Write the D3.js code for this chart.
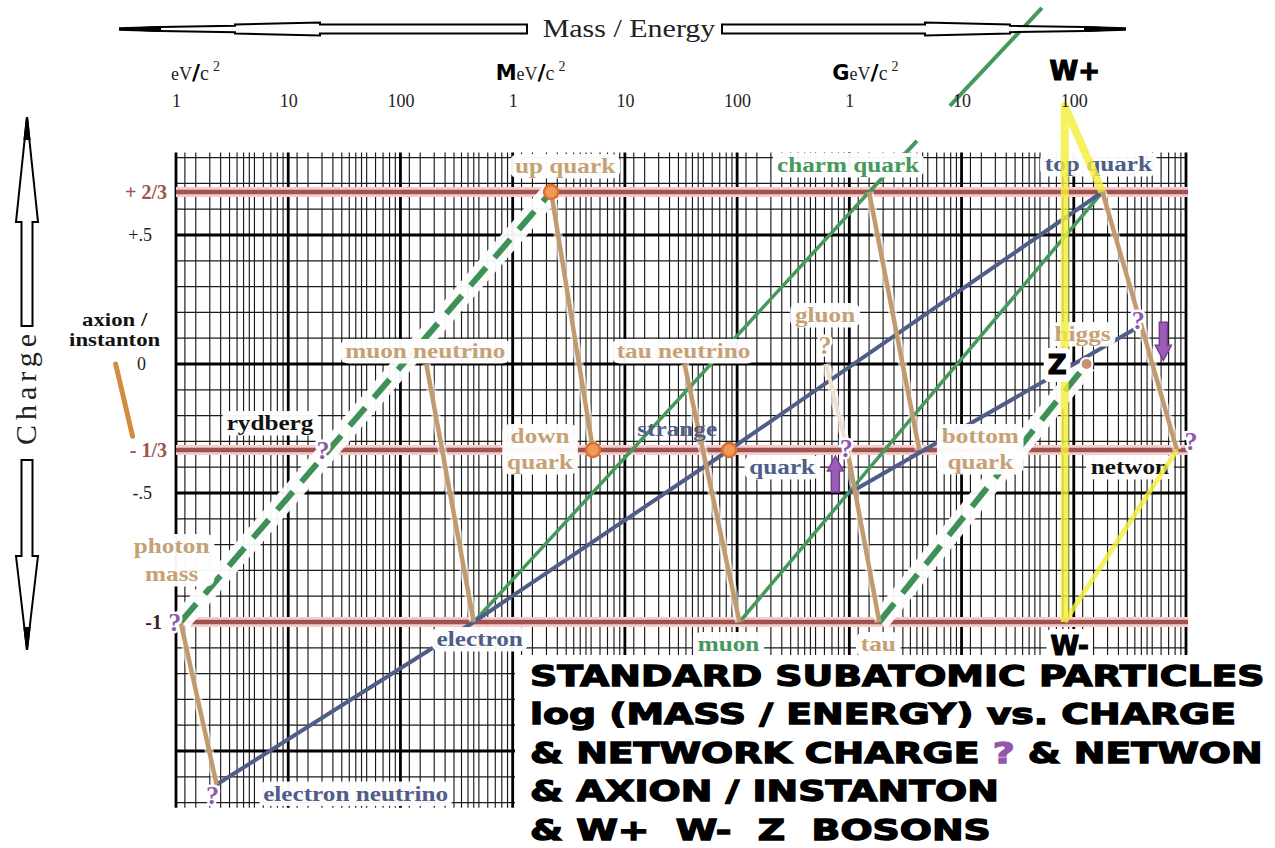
<!DOCTYPE html>
<html>
<head>
<meta charset="utf-8">
<script src="https://cdn.jsdelivr.net/npm/d3@7"></script>
<style>
  body { margin: 0; background: #fff; }
  svg { display: block; }
</style>
</head>
<body>
<svg id="chart" width="1275" height="848"></svg>
<script>
'use strict';
/* global d3 */

// ---- data (mass axis is the chart's own compressed log scale: eV, MeV, GeV decades) ----
var massTicks = [1, 10, 100, 1e3, 1e4, 1e5, 1e6, 1e7, 1e8];
var massTickLabels = ['1', '10', '100', '1', '10', '100', '1', '10', '100'];
var massUnits = [
  {at: 1, prefix: '', unit: 'eV'},
  {at: 1e3, prefix: 'M', unit: 'eV'},
  {at: 1e6, prefix: 'G', unit: 'eV'}
];
var chargeTicks = [2 / 3, 0.5, 0, -1 / 3, -0.5, -1];
var chargeTickLabels = ['+ 2/3', '+.5', '0', '- 1/3', '-.5', '-1'];
var quarkCharges = [2 / 3, -1 / 3, -1];
var quarkLineStart = [1, 1, 1.35];

var particles = [
  {id: 'photon', mass: 1.1, charge: -1},
  {id: 'eNeutrino', mass: 2.3, charge: -1.63},
  {id: 'rydberg', mass: 20, charge: -1 / 3},
  {id: 'muNeutrino', mass: 170, charge: 0},
  {id: 'electron', mass: 450, charge: -1},
  {id: 'up', mass: 2200, charge: 2 / 3},
  {id: 'down', mass: 5200, charge: -1 / 3},
  {id: 'tauNeutrino', mass: 34000, charge: 0},
  {id: 'strange', mass: 85000, charge: -1 / 3},
  {id: 'muon', mass: 105000, charge: -1},
  {id: 'gluon', mass: 620000, charge: 0},
  {id: 'quarkQ', mass: 960000, charge: -1 / 3},
  {id: 'charm', mass: 1.5e6, charge: 2 / 3},
  {id: 'tau', mass: 1.85e6, charge: -1},
  {id: 'bottom', mass: 4.2e6, charge: -1 / 3},
  {id: 'Wplus', mass: 8.3e7, charge: 1},
  {id: 'Wminus', mass: 8.3e7, charge: -1},
  {id: 'Z', mass: 9.1e7, charge: 0},
  {id: 'higgs', mass: 1.3e8, charge: 0},
  {id: 'top', mass: 1.8e8, charge: 2 / 3},
  {id: 'higgsQ', mass: 4e8, charge: 0.15},
  {id: 'netwon', mass: 8.3e8, charge: -1 / 3}
];
var waypoints = [
  {id: 'greenEnd', mass: 5.2e7, charge: 1.38},
  {id: 'blueStart', mass: 1e6, charge: -0.5},
  {id: 'axionTop', mass: 0.29, charge: 0},
  {id: 'axionBottom', mass: 0.41, charge: -0.28}
];

var tanLinks = [['photon', 'eNeutrino'], ['muNeutrino', 'electron'], ['up', 'down'],
  ['tauNeutrino', 'muon'], ['charm', 'bottom'], ['quarkQ', 'tau'], ['top', 'higgsQ', 'netwon']];
var gluonLinks = [['gluon', 'quarkQ']];
var axionLinks = [['axionTop', 'axionBottom']];
var greenLinks = [['electron', 'charm'], ['muon', 'top']];
var greenExtension = [['charm', 'greenEnd']];
var dashedLinks = [['photon', 'up'], ['tau', 'higgs']];
var blueLinks = [['eNeutrino', 'electron', 'strange', 'top'], ['blueStart', 'higgsQ']];
var yellowLinks = [['Wminus', 'Wplus', 'top'], ['netwon', 'Wminus']];
var orangeDots = ['up', 'down', 'strange'];
var higgsDots = ['higgs'];
var purpleMarks = ['photon', 'eNeutrino', 'rydberg', 'quarkQ', 'higgsQ', 'netwon'];
var tanMarks = ['gluon'];

var TAN = '#c6a173', SLATE = '#4f5d88', GREEN = '#46995c', INK = '#111';
var SERIF = '"Liberation Serif", "DejaVu Serif", serif';
var SANS = '"DejaVu Sans", "Liberation Sans", sans-serif';

var labels = [
  {of: 'up', text: ['up quark'], color: TAN, dx: 14, dy: -19},
  {of: 'muNeutrino', text: ['muon neutrino'], color: TAN, dx: -1, dy: -6},
  {of: 'tauNeutrino', text: ['tau neutrino'], color: TAN, dx: -1, dy: -6},
  {of: 'down', text: ['down', 'quark'], color: TAN, dx: -53, dy: -7},
  {of: 'strange', text: ['strange'], color: SLATE, dx: -52, dy: -14, box: false},
  {of: 'strange', text: ['quark'], color: SLATE, dx: 53, dy: 24},
  {of: 'charm', text: ['charm quark'], color: GREEN, dx: -21, dy: -20},
  {of: 'top', text: ['top quark'], color: SLATE, dx: -4, dy: -21},
  {of: 'gluon', text: ['gluon'], color: TAN, dx: -1, dy: -42},
  {of: 'higgs', text: ['higgs'], color: TAN, dx: -4, dy: -23},
  {of: 'bottom', text: ['bottom', 'quark'], color: TAN, dx: 61, dy: -7},
  {of: 'netwon', text: ['netwon'], color: INK, dx: -47, dy: 24},
  {of: 'tau', text: ['tau'], color: TAN, dx: -1, dy: 29},
  {of: 'muon', text: ['muon'], color: GREEN, dx: -11, dy: 29},
  {of: 'electron', text: ['electron'], color: SLATE, dx: 6, dy: 24},
  {of: 'eNeutrino', text: ['electron neutrino'], color: SLATE, dx: 139, dy: 16},
  {of: 'rydberg', text: ['rydberg'], color: INK, dx: -52, dy: -20},
  {of: 'photon', text: ['photon', 'mass'], color: TAN, dx: -9, dy: -69, lh: 28},
  {of: 'axionTop', text: ['axion /', 'instanton'], color: INK, dx: -1, dy: -38, lh: 20, size: 19, box: false}
];
var bosonLabels = [
  {of: 'Wplus', text: 'W+', dx: 10, dy: -26, box: false},
  {of: 'Z', text: 'Z', dx: -12, dy: 10, box: true},
  {of: 'Wminus', text: 'W-', dx: 5, dy: 33, box: true}
];
var titleLines = [
  ['STANDARD SUBATOMIC PARTICLES'],
  ['log (MASS / ENERGY) vs. CHARGE'],
  ['& NETWORK CHARGE ', '?', ' & NETWON'],
  ['& AXION / INSTANTON'],
  ['& W+\u00a0\u00a0W-\u00a0\u00a0Z\u00a0\u00a0BOSONS']
];

// ---- scales ----
var svg = d3.select('#chart');
var x = d3.scaleLog().domain([1, 1e9]).range([176, 1186]);
var y = d3.scaleLinear().domain([0, -1]).range([364, 622]);
var yTop = y(0.82), yBot = y(-1.72);

var pt = {};
particles.concat(waypoints).forEach(function (d) { pt[d.id] = d; });
var px = function (id) { return x(pt[id].mass); };
var py = function (id) { return y(pt[id].charge); };
var line = d3.line().x(function (d) { return x(d.mass); }).y(function (d) { return y(d.charge); });
var pathOf = function (ids) { return line(ids.map(function (i) { return pt[i]; })); };

svg.append('rect').attr('width', 1275).attr('height', 848).attr('fill', '#fff');

// ---- grid paper ----
var grid = svg.append('g');
var minorMult = [1.2, 1.5, 2, 2.5, 3, 3.5, 4, 4.5, 5, 6, 7, 8, 9];
var minorX = d3.range(0, 9).reduce(function (a, k) {
  return a.concat(minorMult.map(function (m) { return m * Math.pow(10, k); }));
}, []);
grid.selectAll('line.vmin').data(minorX).join('line')
  .attr('x1', function (d) { return x(d); }).attr('x2', function (d) { return x(d); })
  .attr('y1', yTop).attr('y2', yBot)
  .attr('stroke', '#1a1a1a').attr('stroke-width', 1.15);
var hIdx = d3.range(-17, 9);
grid.selectAll('line.h').data(hIdx).join('line')
  .attr('x1', x(1)).attr('x2', x(1e9))
  .attr('y1', function (d) { return y(d / 10); }).attr('y2', function (d) { return y(d / 10); })
  .attr('stroke', function (d) { return d % 5 === 0 ? '#000' : '#1a1a1a'; })
  .attr('stroke-width', function (d) { return d % 5 === 0 ? 2.8 : 1.2; });
grid.selectAll('line.vmaj').data(d3.range(0, 10).map(function (k) { return Math.pow(10, k); })).join('line')
  .attr('x1', function (d) { return x(d); }).attr('x2', function (d) { return x(d); })
  .attr('y1', yTop).attr('y2', yBot)
  .attr('stroke', '#000').attr('stroke-width', 2.8);

// blank corner for the title block
svg.append('rect').attr('x', 515).attr('y', 655).attr('width', 760).attr('height', 193).attr('fill', '#fff');

// ---- charge reference lines ----
var ref = svg.append('g');
ref.selectAll('line.glow').data(quarkCharges).join('line')
  .attr('x1', function (d, i) { return x(quarkLineStart[i]); }).attr('x2', x(1e9) + 2)
  .attr('y1', y).attr('y2', y)
  .attr('stroke', '#f6cccc').attr('stroke-width', 10);
ref.selectAll('line.main').data(quarkCharges).join('line')
  .attr('x1', function (d, i) { return x(quarkLineStart[i]); }).attr('x2', x(1e9) + 2)
  .attr('y1', y).attr('y2', y)
  .attr('stroke', '#a0524e').attr('stroke-width', 4.5);

// ---- particle links ----
var links = svg.append('g').attr('fill', 'none');
links.selectAll('path.halo').data(dashedLinks).join('path')
  .attr('d', pathOf).attr('stroke', '#fff').attr('stroke-width', 20).attr('opacity', 0.95);
links.selectAll('path.tanhalo').data(tanLinks.concat(gluonLinks)).join('path')
  .attr('d', pathOf).attr('stroke', '#fff').attr('stroke-width', 9).attr('opacity', 0.6);
links.selectAll('path.green').data(greenLinks).join('path')
  .attr('d', pathOf).attr('stroke', GREEN).attr('stroke-width', 3.5);
links.selectAll('path.greenExt').data(greenExtension).join('path')
  .attr('d', pathOf).attr('stroke', GREEN).attr('stroke-width', 4).attr('stroke-dasharray', '70,48,400');
links.selectAll('path.blue').data(blueLinks).join('path')
  .attr('d', pathOf).attr('stroke', SLATE).attr('stroke-width', 4);
links.selectAll('path.dash').data(dashedLinks).join('path')
  .attr('d', pathOf).attr('stroke', '#3d9156').attr('stroke-width', 6).attr('stroke-dasharray', '24,13');
links.selectAll('path.tan').data(tanLinks).join('path')
  .attr('d', pathOf).attr('stroke', '#c39a70').attr('stroke-width', 4.5);
links.selectAll('path.gluon').data(gluonLinks).join('path')
  .attr('d', pathOf).attr('stroke', '#eee2cf').attr('stroke-width', 4);
links.selectAll('path.axion').data(axionLinks).join('path')
  .attr('d', pathOf).attr('stroke', '#d48a3f').attr('stroke-width', 5).attr('stroke-linecap', 'round');

// ---- particle dots ----
svg.append('g').selectAll('circle').data(orangeDots).join('circle')
  .attr('cx', px).attr('cy', py).attr('r', 7)
  .attr('fill', '#ef9a5a').attr('stroke', '#e06f2d').attr('stroke-width', 2.5);
svg.append('g').selectAll('circle').data(higgsDots).join('circle')
  .attr('cx', px).attr('cy', py).attr('r', 6)
  .attr('fill', '#c88f78').attr('stroke', '#fff').attr('stroke-width', 2);

// ---- particle labels ----
var labelG = svg.append('g');
labels.forEach(function (l) {
  var lh = l.lh || 26, fs = l.size || 21;
  var g = labelG.append('g')
    .attr('transform', 'translate(' + (px(l.of) + l.dx) + ',' + (py(l.of) + l.dy) + ') scale(1.2,1)');
  var t = g.append('text').attr('text-anchor', 'middle')
    .attr('font-family', SERIF).attr('font-weight', 'bold').attr('font-size', fs).attr('fill', l.color);
  l.text.forEach(function (s, i) { t.append('tspan').attr('x', 0).attr('y', i * lh).text(s); });
  if (l.box !== false) {
    var b = t.node().getBBox();
    g.insert('rect', 'text').attr('x', b.x - 4).attr('y', b.y)
      .attr('width', b.width + 8).attr('height', b.height + 1)
      .attr('rx', 7).attr('fill', '#fff').attr('opacity', 0.96);
  }
});

// ---- W / Z bosons (yellow) ----
var yel = svg.append('g').attr('fill', 'none').attr('stroke', '#f3ee3c').attr('opacity', 0.82)
  .attr('stroke-linejoin', 'round');
yel.selectAll('path').data(yellowLinks).join('path')
  .attr('d', pathOf).attr('stroke-width', function (d, i) { return i === 0 ? 8 : 5; });

bosonLabels.forEach(function (l) {
  var g = svg.append('g').attr('transform', 'translate(' + (px(l.of) + l.dx) + ',' + (py(l.of) + l.dy) + ')');
  var t = g.append('text').attr('text-anchor', 'middle').attr('font-family', SANS)
    .attr('font-weight', 'bold').attr('font-size', 26).attr('fill', '#000')
    .attr('stroke', '#000').attr('stroke-width', 1.2).text(l.text);
  if (l.box) {
    var b = t.node().getBBox();
    g.insert('rect', 'text').attr('x', b.x - 4).attr('y', b.y - 2)
      .attr('width', b.width + 8).attr('height', b.height + 4).attr('rx', 5).attr('fill', '#fff');
  }
});

// ---- question marks ----
var qOff = {photon: [-6, 9], eNeutrino: [-4, 19], rydberg: [1, 9], quarkQ: [-1, 7], higgsQ: [-3, 4], netwon: [14, 0], gluon: [-1, -10]};
svg.append('g').selectAll('text').data(purpleMarks.concat(tanMarks)).join('text')
  .attr('x', function (d) { return px(d) + qOff[d][0]; })
  .attr('y', function (d) { return py(d) + qOff[d][1]; })
  .attr('text-anchor', 'middle').attr('font-family', SERIF).attr('font-weight', 'bold')
  .attr('font-size', 26)
  .attr('fill', function (d) { return tanMarks.indexOf(d) >= 0 ? TAN : '#8c5aa8'; })
  .attr('stroke', '#fff').attr('stroke-width', 5).attr('paint-order', 'stroke')
  .text('?');

// purple up / down arrows
var arrowPath = function (cx, y0, y1) {
  var dir = y1 > y0 ? 1 : -1, hl = 15 * dir;
  return d3.line()([[cx - 4, y0], [cx + 4, y0], [cx + 4, y1 - hl], [cx + 8, y1 - hl], [cx, y1],
    [cx - 8, y1 - hl], [cx - 4, y1 - hl]]) + 'Z';
};
var purple = svg.append('g').attr('fill', '#9b5db5').attr('stroke', '#7a3e96').attr('stroke-width', 1.5);
purple.append('path').attr('d', arrowPath(px('quarkQ') - 12, py('quarkQ') + 42, py('quarkQ') + 6));
purple.append('path').attr('d', arrowPath(px('higgsQ') + 22, py('higgsQ') - 3, py('higgsQ') + 35));

// ---- axes ----
var xAxis = svg.append('g').attr('transform', 'translate(0,107)')
  .call(d3.axisTop(x).tickValues(massTicks).tickFormat(function (d, i) { return massTickLabels[i]; })
    .tickSize(0).tickPadding(0));
xAxis.select('.domain').remove();
xAxis.selectAll('text').attr('font-family', SERIF).attr('font-size', 18).attr('fill', '#222');

var units = svg.append('g');
massUnits.forEach(function (u) {
  var t = units.append('text').attr('x', x(u.at) - (u.prefix ? 17 : 5)).attr('y', 80).attr('fill', '#222');
  if (u.prefix) t.append('tspan').attr('font-family', SANS).attr('font-weight', 'bold').attr('font-size', 21).attr('fill', '#000').text(u.prefix);
  t.append('tspan').attr('font-family', SERIF).attr('font-size', 18).text(u.unit);
  t.append('tspan').attr('font-family', SANS).attr('font-weight', 'bold').attr('font-size', 22).attr('fill', '#000').text('/');
  t.append('tspan').attr('font-family', SERIF).attr('font-size', 20).text('c');
  t.append('tspan').attr('font-family', SERIF).attr('font-size', 14).attr('dx', 4).attr('dy', -9).text('2');
});

var yAxis = svg.append('g').attr('transform', 'translate(' + x(1) + ',0)')
  .call(d3.axisLeft(y).tickValues(chargeTicks).tickFormat(function (d, i) { return chargeTickLabels[i]; })
    .tickSize(0).tickPadding(9));
yAxis.select('.domain').remove();
yAxis.selectAll('text').each(function (d, i) {
  var s = chargeTickLabels[i];
  var frac = s.indexOf('/') >= 0;
  var t = d3.select(this).attr('font-family', SERIF);
  if (frac) t.attr('font-weight', 'bold').attr('font-size', 20).attr('fill', '#a0524e').attr('x', -9);
  else if (s === '-1') t.attr('font-weight', 'bold').attr('font-size', 20).attr('fill', '#3a1f1f').attr('x', -14);
  else if (s === '0') t.attr('font-size', 18).attr('fill', '#222').attr('x', -30);
  else t.attr('font-size', 18).attr('fill', '#222').attr('x', -24);
});

// ---- titles and big outline arrows ----
svg.append('text').attr('transform', 'translate(629,37) scale(1.2,1)')
  .attr('text-anchor', 'middle').attr('font-family', SERIF).attr('font-size', 25).attr('fill', '#222')
  .text('Mass / Energy');
svg.append('text').attr('transform', 'translate(36,387) rotate(-90)')
  .attr('text-anchor', 'middle').attr('font-family', SERIF).attr('font-size', 30)
  .attr('letter-spacing', 5).attr('fill', '#222').text('Charge');

var outline = svg.append('g').attr('fill', '#fff').attr('stroke', '#000').attr('stroke-width', 2)
  .attr('stroke-linejoin', 'miter');
var hArrow = function (tip, end, cy) {
  var s = end > tip ? 1 : -1;
  var prof = [[tip, 0.8], [tip + 40 * s, 2], [tip + 115 * s, 3.2], [tip + 115 * s, 4.6],
    [tip + 200 * s, 6.6], [tip + 200 * s, 4.5], [end, 4.5]];
  var pts = prof.map(function (p) { return [p[0], cy - p[1]]; })
    .concat(prof.slice().reverse().map(function (p) { return [p[0], cy + p[1]]; }));
  outline.append('path').attr('d', d3.line()(pts) + 'Z');
  outline.append('path').attr('fill', '#000').attr('d', d3.line()([[tip, cy], [tip + 40 * s, cy - 2], [tip + 40 * s, cy + 2]]) + 'Z');
};
hArrow(120, 527, 29);
hArrow(1125, 722, 29);
var vArrow = function (tip, base, end, cx) {
  var pts = [[cx, tip], [cx + 11, base], [cx + 5.5, base], [cx + 5.5, end], [cx - 5.5, end], [cx - 5.5, base], [cx - 11, base]];
  outline.append('path').attr('d', d3.line()(pts) + 'Z');
  var s = base > tip ? 1 : -1;
  outline.append('path').attr('fill', '#000').attr('d', d3.line()([[cx, tip], [cx + 2.5, tip + 22 * s], [cx - 2.5, tip + 22 * s]]) + 'Z');
};
vArrow(117, 222, 326, 27);
vArrow(650, 556, 460, 27);

// ---- title block ----
var title = svg.append('g').attr('font-family', SANS).attr('font-weight', 'bold').attr('font-size', 29)
  .attr('fill', '#000').attr('stroke', '#000').attr('stroke-width', 1.3);
var tLines = title.selectAll('text').data(titleLines).join('text')
  .attr('y', function (d, i) { return 686 + i * 38.5; });
tLines.each(function (parts) {
  var t = d3.select(this);
  parts.forEach(function (p) {
    var sp = t.append('tspan').text(p);
    if (p === '?') sp.attr('fill', '#9057ac').attr('stroke', '#9057ac');
  });
});
var firstLen = tLines.node().getComputedTextLength();
var sx = 735 / firstLen;
tLines.attr('transform', 'translate(530,0) scale(' + sx + ',1)').attr('x', 0);
</script>
</body>
</html>
